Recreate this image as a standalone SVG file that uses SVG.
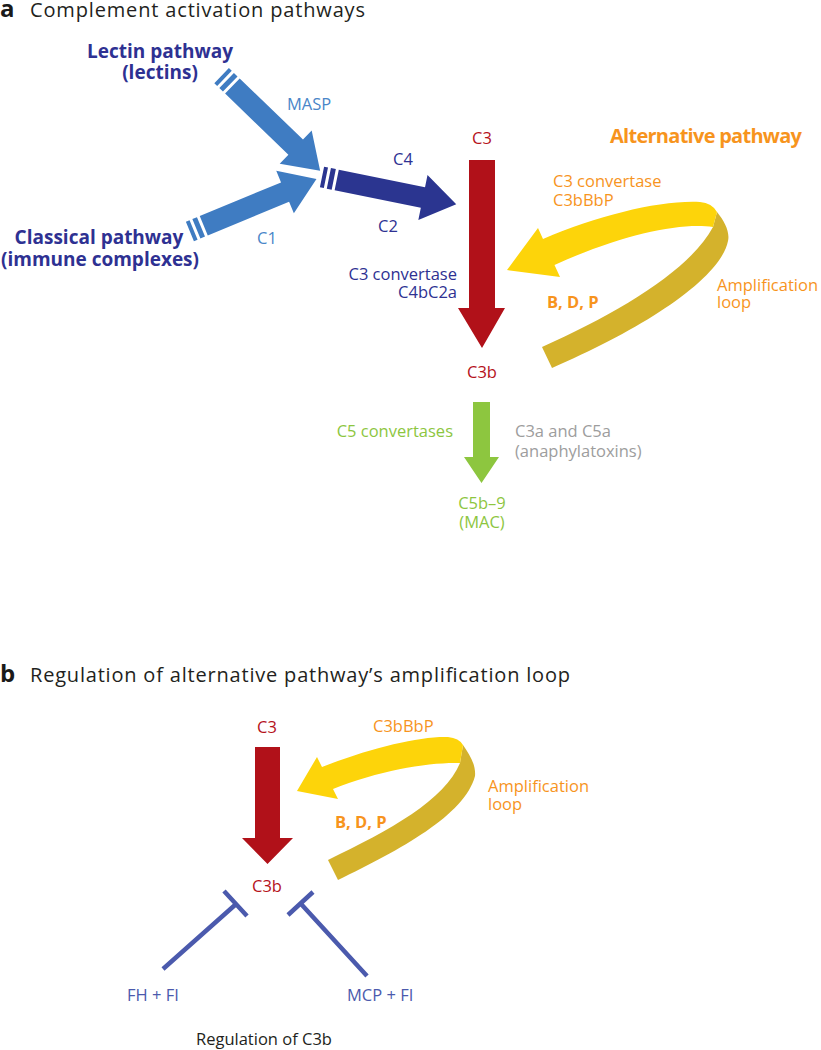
<svg xmlns="http://www.w3.org/2000/svg" width="821" height="1050" viewBox="0 0 821 1050">
<style>
text { font-family: "Open Sans", "Liberation Sans", Arial, sans-serif; }
.hd { font-size: 24px; font-weight: bold; fill: #1a1a1a; }
.ttl { font-size: 20px; fill: #231f20; }
.lb { font-size: 16.5px; }
.bd { font-weight: bold; }
.big { font-size: 19px; }
.navy { fill: #2e3192; }
.lblue { fill: #4a86c8; }
.red { fill: #b5121b; }
.orange { fill: #f7941d; }
.green { fill: #8dc63f; }
.grey { fill: #9d9d9d; }
.reg { fill: #4b5aad; }
.blk { fill: #231f20; }
.mid { text-anchor: middle; }
.end { text-anchor: end; }
.inh { stroke: #4b5aad; stroke-width: 4.5; fill: none; }
</style>
<defs>
<path id="striped" d="M0,-10.5 h4 v21 h-4 z M7,-10.5 h5 v21 h-5 z M15,-10.5 H103 V-23 L137,0 L103,23 V10.5 H15 z"/>
</defs>

<!-- Panel a -->
<g id="title-a">
<text x="0" y="17" class="hd">a</text>
<text x="30" y="17" class="ttl" textLength="335">Complement activation pathways</text>
</g>

<g id="connectors">
<use href="#striped" fill="#3f7cc2" transform="translate(221.6,75.6) rotate(44)"/>
<use href="#striped" fill="#3f7cc2" transform="translate(189.9,231.5) rotate(-22.5)"/>
<use href="#striped" fill="#2b3590" transform="translate(322,177) rotate(11.5)"/>
<path d="M469,160 H495 V308 H505 L482,348 L458,308 H469 Z" fill="#b11119"/>
<path d="M717,212 C725,222 730,232 728,241 C720,280 640,330 552,368 L542,347 C620,312 690,270 713,227 Z" fill="#d4b22c"/>
<path d="M543,239 C600,215 660,200 700,202 Q712,203 717,212 L713,227 C680,222 620,235 554.5,265 L560,277 L507,270 L538,228 Z" fill="#fdd40a"/>
<path d="M473,402 H490 V457 H499 L481.5,483 L464,457 H473 Z" fill="#8dc63f"/>
<!-- Panel b -->
<path d="M255,747 H280 V838 H293 L267.5,864 L242,838 H255 Z" fill="#b11119"/>
<path d="M463,745 C470,755 476,765 475,776 C465,815 400,850 338,880 L328,860 C390,830 445,800 460,763 Z" fill="#d4b22c"/>
<path d="M322,767 C370,748 420,736 448,737 Q459,738 463,745 L460,763 C430,762 380,770 333,789 L338,799 L297,791 L317,757 Z" fill="#fdd40a"/>
<path class="inh" d="M163,969 L235,905 M224,891 L247,916"/>
<path class="inh" d="M367,976 L302,905 M313,892 L288,915"/>
</g>

<g id="lectin">
<text x="160" y="58" class="big bd navy mid">Lectin pathway</text>
<text x="160" y="79" class="big bd navy mid">(lectins)</text>
</g>
<g id="masp"><text x="287" y="110" class="lb lblue">MASP</text></g>
<g id="classical">
<text x="99" y="244" class="big bd navy mid">Classical pathway</text>
<text x="100" y="266" class="big bd navy mid">(immune complexes)</text>
</g>
<g id="c1"><text x="257" y="244" class="lb lblue">C1</text></g>
<g id="c4"><text x="393" y="165" class="lb navy">C4</text></g>
<g id="c2"><text x="378" y="232" class="lb navy">C2</text></g>
<g id="c3-a"><text x="482" y="144" class="lb red mid">C3</text></g>
<g id="conv-classical">
<text x="457" y="280" class="lb navy end">C3 convertase</text>
<text x="457" y="298" class="lb navy end">C4bC2a</text>
</g>
<g id="alternative"><text x="610" y="143" class="bd orange" font-size="20" textLength="192">Alternative pathway</text></g>
<g id="conv-alt">
<text x="553" y="187" class="lb orange">C3 convertase</text>
<text x="553" y="206" class="lb orange">C3bBbP</text>
</g>
<g id="bdp-a"><text x="547" y="308" class="lb bd orange">B, D, P</text></g>
<g id="amp-a">
<text x="717" y="291" class="lb orange">Amplification</text>
<text x="717" y="308" class="lb orange">loop</text>
</g>
<g id="c3b-a"><text x="482" y="378" class="lb red mid">C3b</text></g>
<g id="c5conv"><text x="453" y="437" class="lb green end">C5 convertases</text></g>
<g id="anaphylatoxins">
<text x="515" y="437" class="lb grey">C3a and C5a</text>
<text x="515" y="457" class="lb grey">(anaphylatoxins)</text>
</g>
<g id="mac">
<text x="482" y="509" class="lb green mid">C5b–9</text>
<text x="482" y="528" class="lb green mid">(MAC)</text>
</g>

<!-- Panel b -->
<g id="title-b">
<text x="0" y="682" class="hd">b</text>
<text x="30" y="682" class="ttl" textLength="540">Regulation of alternative pathway’s amplification loop</text>
</g>
<g id="c3-b"><text x="267" y="733" class="lb red mid">C3</text></g>
<g id="c3bbbp-b"><text x="373" y="732" class="lb orange">C3bBbP</text></g>
<g id="amp-b">
<text x="488" y="792" class="lb orange">Amplification</text>
<text x="488" y="810" class="lb orange">loop</text>
</g>
<g id="bdp-b"><text x="335" y="828" class="lb bd orange">B, D, P</text></g>
<g id="c3b-b"><text x="267" y="892" class="lb red mid">C3b</text></g>
<g id="fhfi"><text x="127" y="1001" class="lb reg">FH + FI</text></g>
<g id="mcpfi"><text x="347" y="1001" class="lb reg">MCP + FI</text></g>
<g id="regc3b"><text x="196" y="1045" class="lb blk">Regulation of C3b</text></g>
</svg>
